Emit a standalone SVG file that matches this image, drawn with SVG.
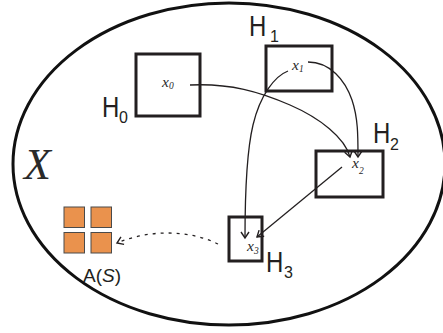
<svg xmlns="http://www.w3.org/2000/svg" width="443" height="333" viewBox="0 0 443 333">
<style>
.box{fill:#fff;stroke:#231f20;stroke-width:3}
.lab{font-family:"Liberation Sans",Arial,sans-serif;fill:#231f20}
.big{font-size:30px}
.sub{font-size:16px}
.var{font-family:"Liberation Serif","Times New Roman",serif;font-style:italic;fill:#2a2a2a}
.conn{fill:none;stroke:#231f20;stroke-width:1.3}
.sq{fill:#ea924d;stroke:#4a4a4a;stroke-width:1}
</style>
<defs>
<marker id="ah" markerUnits="userSpaceOnUse" markerWidth="12" markerHeight="12" refX="7" refY="5" orient="auto" viewBox="0 0 12 10">
<path d="M1,1 L7,5 L1,9" fill="none" stroke="#231f20" stroke-width="1.4"/>
</marker>
</defs>
<rect width="443" height="333" fill="#fff"/>
<ellipse cx="229" cy="164" rx="216" ry="161" fill="none" stroke="#111" stroke-width="3"/>
<text class="var" x="24" y="179" font-size="44">X</text>

<g id="H0">
<rect class="box" x="136" y="54" width="64" height="62"/>
<text class="var" x="162" y="87" font-size="15.5">x<tspan font-size="9.5" dy="2">0</tspan></text>
<text class="lab big" transform="translate(102,116.5) scale(0.8,1)">H</text>
<text class="lab sub" x="119" y="123">0</text>
</g>
<g id="H1">
<rect class="box" x="266" y="46" width="66" height="45"/>
<text class="var" x="292" y="70" font-size="15.5">x<tspan font-size="9.5" dy="1.5">1</tspan></text>
<text class="lab big" transform="translate(249,36) scale(0.8,1)">H</text>
<text class="lab sub" x="270" y="42">1</text>
</g>
<g id="H2">
<rect class="box" x="316" y="151" width="67" height="46"/>
<text class="var" x="352" y="168" font-size="15.5">x<tspan font-size="9.5" dy="6">2</tspan></text>
<text class="lab big" transform="translate(373,143) scale(0.8,1)">H</text>
<text class="lab sub" x="390" y="150">2</text>
</g>
<g id="H3">
<rect class="box" x="229" y="217" width="33" height="44"/>
<text class="var" x="247" y="251" font-size="15.5">x<tspan font-size="9.5" dy="3">3</tspan></text>
<text class="lab big" transform="translate(266,272) scale(0.8,1)">H</text>
<text class="lab sub" x="284" y="278">3</text>
</g>
<g id="AS">
<rect class="sq" x="64" y="207" width="20.5" height="20.5"/>
<rect class="sq" x="91" y="207" width="20.5" height="20.5"/>
<rect class="sq" x="64" y="232.5" width="20.5" height="20.5"/>
<rect class="sq" x="91" y="232.5" width="20.5" height="20.5"/>
<text class="lab" x="83" y="282" font-size="19" fill="#333">A(<tspan font-style="italic">S</tspan>)</text>
</g>

<g id="connectors">
<path class="conn" d="M190,85 C230,83 260,92 290,105 C320,118 345,138 350,157" marker-end="url(#ah)"/>
<path class="conn" d="M308,62 C330,62 345,80 352,100 C358,118 358,135 358,157" marker-end="url(#ah)"/>
<path class="conn" d="M288,71 C275,76 260,95 253,125 C247,150 245,190 245,238" marker-end="url(#ah)"/>
<path class="conn" d="M342,167 L257,237" marker-end="url(#ah)"/>
<path class="conn" d="M218,244 C190,230 150,229 117,243" stroke-width="1.6" stroke-dasharray="3 5" marker-end="url(#ah)"/>
</g>
</svg>
